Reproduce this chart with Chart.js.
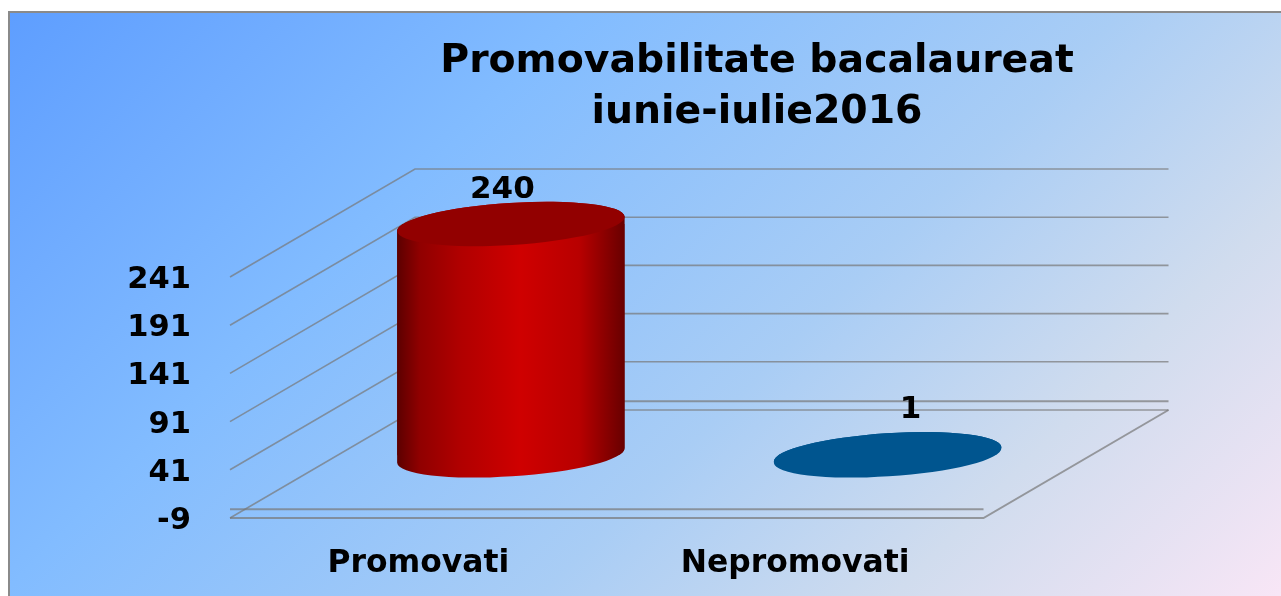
<!DOCTYPE html>
<html>
<head>
<meta charset="utf-8">
<style>html,body{margin:0;padding:0;background:#fff;overflow:hidden}canvas{display:block}</style>
<script src="https://cdn.jsdelivr.net/npm/chart.js@4/dist/chart.umd.js"></script>
</head>
<body>
<canvas id="c" width="1281" height="596"></canvas>
<script>
const categories = ['Promovati', 'Nepromovati'];
const values = [240, 1];
const titleLines = ['Promovabilitate bacalaureat', 'iunie-iulie2016'];
const axisMin = -9, axisMax = 241, axisStep = 50;

const FONT = '"DejaVu Sans", Verdana, sans-serif';
const DEPTH_X = 185, DEPTH_Y = -108, LIFT = -3;
const ROT = -3.7 * Math.PI / 180, ELL = 0.185;
const labelOffsets = [[-8.5, -34], [23, -44.5]];
const topColors = ['#920000', '#00558f'];
const LINE = 'rgba(120,120,120,0.7)';

function ramp(ctx, x0, x1, stops) {
  const g = ctx.createLinearGradient(x0, 0, x1, 0);
  stops.forEach(s => g.addColorStop(s[0], s[1]));
  return g;
}
const redStops = [[0,'#5c0000'],[0.1,'#900000'],[0.275,'#b00000'],[0.54,'#cf0000'],[0.8,'#b80000'],[1,'#680000']];
const blueStops = [[0,'#00558f'],[1,'#00558f']];
function barFill(ctx, el, i) {
  const s = i === 0 ? redStops : blueStops;
  return ramp(ctx, el.x - el.width / 2, el.x + el.width / 2, s);
}
function body(ctx, el, zeroY) {
  const a = el.width / 2 + 0.2, b = a * ELL;
  ctx.moveTo(el.x + a * Math.cos(ROT), zeroY + a * Math.sin(ROT));
  ctx.ellipse(el.x, zeroY, a, b, ROT, 0, Math.PI);
  ctx.ellipse(el.x, el.y, a, b, ROT, Math.PI, 2 * Math.PI);
  ctx.closePath();
}

const scene = {
  id: 'scene',
  beforeDraw(chart) {
    const ctx = chart.ctx;
    ctx.save();
    ctx.fillStyle = '#fff';
    ctx.fillRect(0, 0, 1281, 596);
    ctx.fillStyle = '#8a8a8a';
    ctx.fillRect(8, 11, 1273, 585);
    const g = ctx.createLinearGradient(10, 13, 937, 940);
    g.addColorStop(0, '#5e9eff');
    g.addColorStop(0.15, '#70acff');
    g.addColorStop(0.31, '#82bcff');
    g.addColorStop(0.6, '#a9cdf5');
    g.addColorStop(0.79, '#d0dcee');
    g.addColorStop(1, '#f8e6f6');
    ctx.fillStyle = g;
    ctx.fillRect(10, 13, 1271, 583);
    ctx.restore();
  },
  afterLayout(chart) {
    chart.titleBlock.left = 0;
    chart.titleBlock.right = 1514;
  },
  beforeDatasetsDraw(chart) {
    const ctx = chart.ctx, ya = chart.scales.y, area = chart.chartArea;
    const l = area.left, r = area.right;
    ctx.save();
    ctx.strokeStyle = LINE;
    ctx.lineWidth = 1.6;
    ya.ticks.forEach(t => {
      const y = ya.getPixelForValue(t.value) + LIFT;
      ctx.beginPath();
      ctx.moveTo(l, y);
      ctx.lineTo(l + DEPTH_X, y + DEPTH_Y);
      ctx.lineTo(r + DEPTH_X, y + DEPTH_Y);
      ctx.stroke();
    });
    const y0 = ya.getPixelForValue(axisMin) + LIFT, yz = ya.getPixelForValue(0) + LIFT;
    ctx.lineWidth = 2;
    ctx.beginPath();
    ctx.moveTo(l, y0); ctx.lineTo(r, y0); ctx.lineTo(r + DEPTH_X, y0 + DEPTH_Y);
    ctx.moveTo(l, yz); ctx.lineTo(r, yz);
    ctx.moveTo(l + DEPTH_X, yz + DEPTH_Y); ctx.lineTo(r + DEPTH_X, yz + DEPTH_Y);
    ctx.stroke();
    ctx.restore();

    const meta = chart.getDatasetMeta(0);
    const yzBar = ya.getPixelForValue(0);
    ctx.save();
    ctx.translate(DEPTH_X / 2, DEPTH_Y / 2 + LIFT);
    ctx.beginPath();
    meta.data.forEach(el => body(ctx, el, yzBar));
    ctx.clip();
  },
  afterDatasetsDraw(chart) {
    const ctx = chart.ctx, meta = chart.getDatasetMeta(0);
    ctx.restore();
    const yz = chart.scales.y.getPixelForValue(0);
    ctx.save();
    ctx.translate(DEPTH_X / 2, DEPTH_Y / 2 + LIFT);
    meta.data.forEach((el, i) => {
      ctx.fillStyle = barFill(ctx, el, i);
      ctx.beginPath(); body(ctx, el, yz); ctx.fill();
      const a = el.width / 2 + 0.2;
      ctx.fillStyle = topColors[i];
      ctx.beginPath();
      ctx.ellipse(el.x, el.y, a, a * ELL, ROT, 0, 2 * Math.PI);
      ctx.fill();
    });
    ctx.fillStyle = '#000';
    ctx.font = 'bold 31px ' + FONT;
    ctx.textAlign = 'center';
    ctx.textBaseline = 'middle';
    meta.data.forEach((el, i) => {
      ctx.fillText(String(values[i]), el.x + labelOffsets[i][0], el.y + labelOffsets[i][1]);
    });
    ctx.restore();
  }
};

new Chart(document.getElementById('c'), {
  type: 'bar',
  data: {
    labels: categories,
    datasets: [{
      data: values,
      barPercentage: 0.604,
      categoryPercentage: 1,
      backgroundColor(c) {
        const xs = c.chart.scales.x;
        if (!xs || c.dataIndex === undefined) return '#c00000';
        const w = xs.width / categories.length * 0.604, x = xs.getPixelForValue(c.dataIndex);
        if (!isFinite(w) || !isFinite(x)) return '#c00000';
        return barFill(c.chart.ctx, {x: x, width: w}, c.dataIndex);
      },
      borderWidth: 0
    }]
  },
  options: {
    responsive: false,
    animation: false,
    devicePixelRatio: 1,
    layout: {padding: {left: 0, right: 297.5, top: 0, bottom: 0}},
    plugins: {
      legend: {display: false},
      tooltip: {enabled: false},
      title: {
        display: true,
        text: titleLines,
        color: '#000',
        font: {family: FONT, weight: 'bold', size: 39.4, lineHeight: 51 / 39.4},
        padding: {top: 36, bottom: 142}
      }
    },
    scales: {
      x: {
        grid: {display: false},
        border: {display: false},
        afterFit(s) { s.height = 75; },
        ticks: {color: '#000', font: {family: FONT, weight: 'bold', size: 31.4, lineHeight: 1.2}, padding: 16, maxRotation: 0, autoSkip: false}
      },
      y: {
        min: axisMin,
        max: axisMax,
        grid: {display: false},
        border: {display: false},
        afterFit(s) { s.width = 230; },
        afterBuildTicks(s) {
          s.ticks = [];
          for (let v = axisMin; v <= axisMax; v += axisStep) s.ticks.push({value: v});
        },
        ticks: {color: '#000', font: {family: FONT, weight: 'bold', size: 30.5, lineHeight: 1.2}, padding: 31}
      }
    }
  },
  plugins: [scene]
});
</script>
</body>
</html>
